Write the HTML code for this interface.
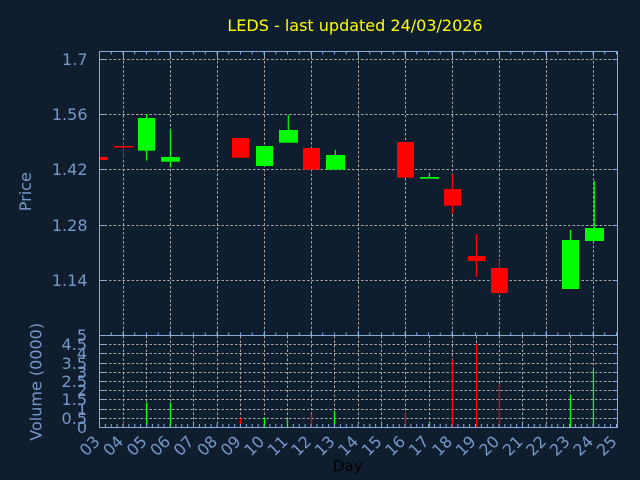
<!DOCTYPE html>
<html><head><meta charset="utf-8"><style>
html,body{margin:0;padding:0;background:#0f1e2f;}
svg{display:block;}
text{font-family:"DejaVu Sans","Liberation Sans",sans-serif;}
</style></head><body>
<svg width="640" height="480" viewBox="0 0 640 480" xmlns="http://www.w3.org/2000/svg">
<rect x="0" y="0" width="640" height="480" fill="#0f1e2f"/>
<text x="355" y="31" font-size="16" fill="#ffff00" text-anchor="middle">LEDS - last updated 24/03/2026</text>

<!-- grid -->
<g stroke="#a8a8a8" stroke-width="1" stroke-dasharray="2.5 2" fill="none">
<path d="M100 59.5H617M100 114.5H617M100 169.5H617M100 225.5H617M100 280.5H617"/>
<path d="M123.5 52V335M170.5 52V335M217.5 52V335M264.5 52V335M311.5 52V335M358.5 52V335M405.5 52V335M452.5 52V335M499.5 52V335M546.5 52V335M593.5 52V335"/>
<path d="M100 418.5H617M100 409.5H617M100 399.5H617M100 390.5H617M100 381.5H617M100 372.5H617M100 363.5H617M100 353.5H617M100 344.5H617"/>
<path d="M123.5 336V427M146.5 336V427M170.5 336V427M193.5 336V427M217.5 336V427M240.5 336V427M264.5 336V427M287.5 336V427M311.5 336V427M334.5 336V427M358.5 336V427M381.5 336V427M405.5 336V427M429.5 336V427M452.5 336V427M476.5 336V427M499.5 336V427M522.5 336V427M546.5 336V427M570.5 336V427M593.5 336V427"/>
</g>

<!-- candles -->
<g fill="#ff0000">
<rect x="100" y="157" width="8" height="3"/>
<rect x="114" y="146" width="19" height="1.5"/>
<rect x="123" y="142.3" width="1" height="15.7"/>
<rect x="232" y="138" width="17" height="19.7"/>
<rect x="303" y="148" width="17" height="21.7"/>
<rect x="397" y="142" width="17" height="35.7"/>
<rect x="444" y="189" width="17" height="16.7"/>
<rect x="451.8" y="174.7" width="1.2" height="39"/>
<rect x="468" y="256" width="17" height="5"/>
<rect x="475.8" y="234" width="1.2" height="43"/>
<rect x="491" y="268" width="17" height="25"/>
<rect x="498.8" y="260" width="1.2" height="8"/>
</g>
<g fill="#00ff00">
<rect x="146" y="114" width="1.2" height="46.7"/>
<rect x="138" y="118" width="17" height="32.7"/>
<rect x="169.8" y="129" width="1.2" height="38.3"/>
<rect x="161" y="157" width="19" height="4.7"/>
<rect x="256" y="146" width="17" height="20"/>
<rect x="287.7" y="115" width="1.2" height="15"/>
<rect x="279" y="130" width="19" height="12.7"/>
<rect x="334.8" y="150" width="1.2" height="5"/>
<rect x="326" y="155" width="19" height="14.7"/>
<rect x="428.8" y="173" width="1.2" height="4"/>
<rect x="420" y="177" width="19" height="1.7"/>
<rect x="569.8" y="230" width="1.2" height="10"/>
<rect x="562" y="240" width="17" height="49"/>
<rect x="593.7" y="181" width="1.2" height="47"/>
<rect x="585" y="228" width="19" height="13"/>
</g>

<!-- volume bars -->
<g fill="#ff0000">
<rect x="122.8" y="422.3" width="1.3" height="5"/>
<rect x="239.8" y="417.7" width="1.3" height="9.6"/>
<rect x="310.8" y="414.3" width="1.3" height="13"/>
<rect x="404.8" y="413" width="1.3" height="14.3"/>
<rect x="451.8" y="359.7" width="1.3" height="67.6"/>
<rect x="475.8" y="343.7" width="1.3" height="83.6"/>
<rect x="498.8" y="383.7" width="1.3" height="43.6"/>
</g>
<g fill="#00ff00">
<rect x="146" y="402.3" width="1.3" height="25"/>
<rect x="169.8" y="402.3" width="1.3" height="25"/>
<rect x="263.8" y="417.7" width="1.3" height="9.6"/>
<rect x="286.8" y="417.7" width="1.3" height="9.6"/>
<rect x="333.8" y="411" width="1.3" height="16.3"/>
<rect x="428.8" y="422" width="1.3" height="5.3"/>
<rect x="569.8" y="394.3" width="1.3" height="33"/>
<rect x="592.8" y="370" width="1.3" height="57.3"/>
</g>

<!-- axes frames -->
<g stroke="#8aaada" stroke-width="1" fill="none">
<rect x="99.5" y="51.5" width="518" height="284"/>
<rect x="99.5" y="335.5" width="518" height="92"/>
<!-- top minor ticks -->
<line x1="99" y1="53" x2="617" y2="53" stroke-width="3" stroke-dasharray="1 10.75"/>
<line x1="123" y1="54" x2="617" y2="54" stroke-width="5" stroke-dasharray="1 46"/>
<!-- bottom of price panel ticks -->
<line x1="99" y1="334" x2="617" y2="334" stroke-width="3" stroke-dasharray="1 10.75"/>
<line x1="123" y1="333" x2="617" y2="333" stroke-width="5" stroke-dasharray="1 46"/>
<!-- volume bottom ticks -->
<line x1="99" y1="425.5" x2="617" y2="425.5" stroke-width="3" stroke-dasharray="1 4.875"/>
<!-- price y ticks -->
<path d="M100 59.5h4.5M100 114.5h4.5M100 169.5h4.5M100 225.5h4.5M100 280.5h4.5M617 59.5h-4.5M617 114.5h-4.5M617 169.5h-4.5M617 225.5h-4.5M617 280.5h-4.5"/>
<!-- volume y ticks -->
<path d="M100 418.5h4.5M100 409.5h4.5M100 399.5h4.5M100 390.5h4.5M100 381.5h4.5M100 372.5h4.5M100 363.5h4.5M100 353.5h4.5M100 344.5h4.5M617 418.5h-4.5M617 409.5h-4.5M617 399.5h-4.5M617 390.5h-4.5M617 381.5h-4.5M617 372.5h-4.5M617 363.5h-4.5M617 353.5h-4.5M617 344.5h-4.5"/>
</g>

<!-- y labels -->
<g font-size="16" fill="#7898c8" text-anchor="end">
<text x="87.5" y="65">1.7</text>
<text x="87.5" y="120">1.56</text>
<text x="87.5" y="175">1.42</text>
<text x="87.5" y="231">1.28</text>
<text x="87.5" y="286">1.14</text>
<text x="87" y="433">0</text>
<text x="87" y="424">0.5</text>
<text x="87" y="415">1</text>
<text x="87" y="405">1.5</text>
<text x="87" y="396">2</text>
<text x="87" y="387">2.5</text>
<text x="87" y="378">3</text>
<text x="87" y="369">3.5</text>
<text x="87" y="359">4</text>
<text x="87" y="350">4.5</text>
<text x="87" y="341">5</text>
</g>
<g font-size="16" fill="#7898c8" text-anchor="middle">
<text transform="translate(31,191.7) rotate(-90)">Price</text>
<text transform="translate(41.5,381.8) rotate(-90)">Volume (0000)</text>
</g>

<!-- x labels -->
<g font-size="16" fill="#7898c8" text-anchor="end">
<text transform="translate(100.8,442.5) rotate(-45)">03</text>
<text transform="translate(124.3,442.5) rotate(-45)">04</text>
<text transform="translate(147.8,442.5) rotate(-45)">05</text>
<text transform="translate(171.3,442.5) rotate(-45)">06</text>
<text transform="translate(194.8,442.5) rotate(-45)">07</text>
<text transform="translate(218.3,442.5) rotate(-45)">08</text>
<text transform="translate(241.8,442.5) rotate(-45)">09</text>
<text transform="translate(265.3,442.5) rotate(-45)">10</text>
<text transform="translate(288.8,442.5) rotate(-45)">11</text>
<text transform="translate(312.3,442.5) rotate(-45)">12</text>
<text transform="translate(335.8,442.5) rotate(-45)">13</text>
<text transform="translate(359.3,442.5) rotate(-45)">14</text>
<text transform="translate(382.8,442.5) rotate(-45)">15</text>
<text transform="translate(406.3,442.5) rotate(-45)">16</text>
<text transform="translate(429.8,442.5) rotate(-45)">17</text>
<text transform="translate(453.3,442.5) rotate(-45)">18</text>
<text transform="translate(476.8,442.5) rotate(-45)">19</text>
<text transform="translate(500.3,442.5) rotate(-45)">20</text>
<text transform="translate(523.8,442.5) rotate(-45)">21</text>
<text transform="translate(547.3,442.5) rotate(-45)">22</text>
<text transform="translate(570.8,442.5) rotate(-45)">23</text>
<text transform="translate(594.3,442.5) rotate(-45)">24</text>
<text transform="translate(617.8,442.5) rotate(-45)">25</text>
</g>
<text x="347.7" y="471" font-size="15" fill="#000000" text-anchor="middle">Day</text>
</svg>
</body></html>
